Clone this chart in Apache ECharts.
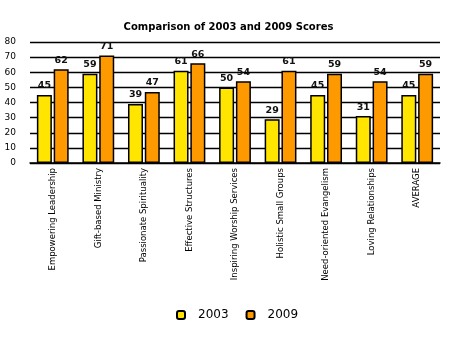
<!DOCTYPE html>
<html>
<head>
<meta charset="utf-8">
<script src="https://cdn.jsdelivr.net/npm/echarts@6/dist/echarts.min.js"></script>
<style>
html,body{margin:0;padding:0;background:#fff;}
#chart{width:457px;height:339px;}
</style>
</head>
<body>
<div id="chart"></div>
<script>
const categories = [
  'Empowering Leadership', 'Gift-based Ministry', 'Passionate Spirituality',
  'Effective Structures', 'Inspiring Worship Services', 'Holistic Small Groups',
  'Need-oriented Evangelism', 'Loving Relationships', 'AVERAGE'
];
const scores2003 = [45, 59, 39, 61, 50, 29, 45, 31, 45];
const scores2009 = [62, 71, 47, 66, 54, 61, 59, 54, 59];
const yTicks = [0, 10, 20, 30, 40, 50, 60, 70, 80];

const font = 'DejaVu Sans, Verdana, sans-serif';
const chart = echarts.init(document.getElementById('chart'));

const labelStyle = {
  show: true,
  position: 'top',
  distance: 4,
  fontFamily: font,
  fontSize: 9.5,
  fontWeight: 'bold',
  color: '#111'
};

chart.setOption({
  animation: false,
  title: {
    text: 'Comparison of 2003 and 2009 Scores',
    left: 'center',
    top: 17,
    textStyle: { fontFamily: font, fontSize: 10, fontWeight: 'bold', color: '#000' }
  },
  legend: {
    bottom: 13,
    left: 171,
    itemWidth: 8,
    itemHeight: 8,
    itemGap: 17,
    textStyle: { fontFamily: font, fontSize: 12, color: '#000', padding: [0, 0, 0, 8] },
    data: ['2003', '2009']
  },
  grid: { left: 30, right: 17, top: 42, bottom: 176 },
  xAxis: {
    type: 'category',
    data: categories,
    axisLine: { lineStyle: { color: '#000', width: 1.5 } },
    axisTick: { show: false },
    axisLabel: {
      rotate: 90,
      interval: 0,
      margin: 5,
      fontFamily: font,
      fontSize: 8.5,
      color: '#000'
    }
  },
  yAxis: {
    type: 'value',
    min: yTicks[0],
    max: yTicks[yTicks.length - 1],
    interval: 10,
    axisLine: { show: false },
    axisTick: { show: false },
    axisLabel: { fontFamily: font, fontSize: 9, color: '#000', margin: 14 },
    splitLine: { lineStyle: { color: '#000', width: 1.3 } }
  },
  series: [
    {
      name: '2003',
      type: 'bar',
      data: scores2003,
      barWidth: 15,
      barGap: '12%',
      itemStyle: { color: '#ffe500', borderColor: '#000', borderWidth: 1.5 },
      label: labelStyle
    },
    {
      name: '2009',
      type: 'bar',
      data: scores2009,
      barWidth: 15,
      itemStyle: { color: '#ff9900', borderColor: '#000', borderWidth: 1.5 },
      label: labelStyle
    }
  ]
});
</script>
</body>
</html>
